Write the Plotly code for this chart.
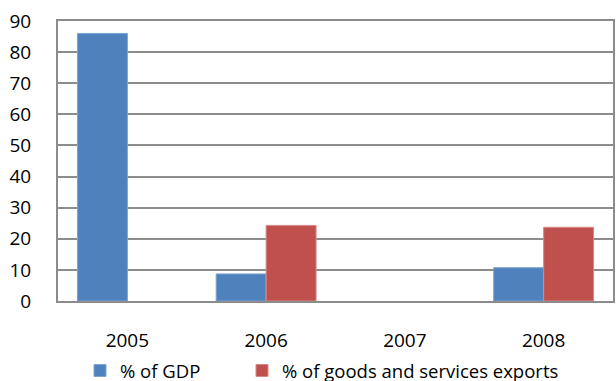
import plotly.graph_objects as go

years = ["2005", "2006", "2007", "2008"]
pct_gdp = [86, 8.7, None, 10.7]
pct_exports = [None, 24.3, None, 23.7]
y_ticks = [0, 10, 20, 30, 40, 50, 60, 70, 80, 90]

W, H = 616, 381
font = dict(family="Open Sans, Liberation Sans, sans-serif", size=19, color="#000000")
grid = "#8C8C8C"

fig = go.Figure()
fig.add_trace(go.Bar(
    x=years, y=pct_gdp, name="% of GDP", legend="legend",
    marker=dict(color="#4F81BD", line=dict(color="#7EA3D1", width=1)),
))
fig.add_trace(go.Bar(
    x=years, y=pct_exports, name="% of goods and services exports", legend="legend2",
    marker=dict(color="#C0504D", line=dict(color="#D68A88", width=1)),
))

legend_common = dict(
    orientation="h", xref="container", yref="container",
    xanchor="left", yanchor="middle", y=1 - 371 / H,
    font=dict(size=18.5), itemwidth=30, bgcolor="rgba(0,0,0,0)",
)

fig.update_layout(
    width=W, height=H,
    margin=dict(l=58, r=3, t=21, b=80, autoexpand=False),
    paper_bgcolor="white", plot_bgcolor="white",
    font=font,
    barmode="group", bargap=0.28, bargroupgap=0,
    showlegend=True,
    legend=dict(x=80 / W, **legend_common),
    legend2=dict(x=242 / W, **legend_common),
)
fig.update_xaxes(
    type="category", showgrid=False, showline=True, linecolor=grid, linewidth=2,
    mirror=True, ticks="", ticklabelstandoff=21,
)
fig.update_yaxes(
    range=[0, 90], tickvals=y_ticks, showgrid=True, gridcolor=grid, gridwidth=2,
    showline=True, linecolor=grid, linewidth=2, mirror=True, zeroline=False,
    ticks="", ticklabelstandoff=21,
)

fig.write_html("out.html")
